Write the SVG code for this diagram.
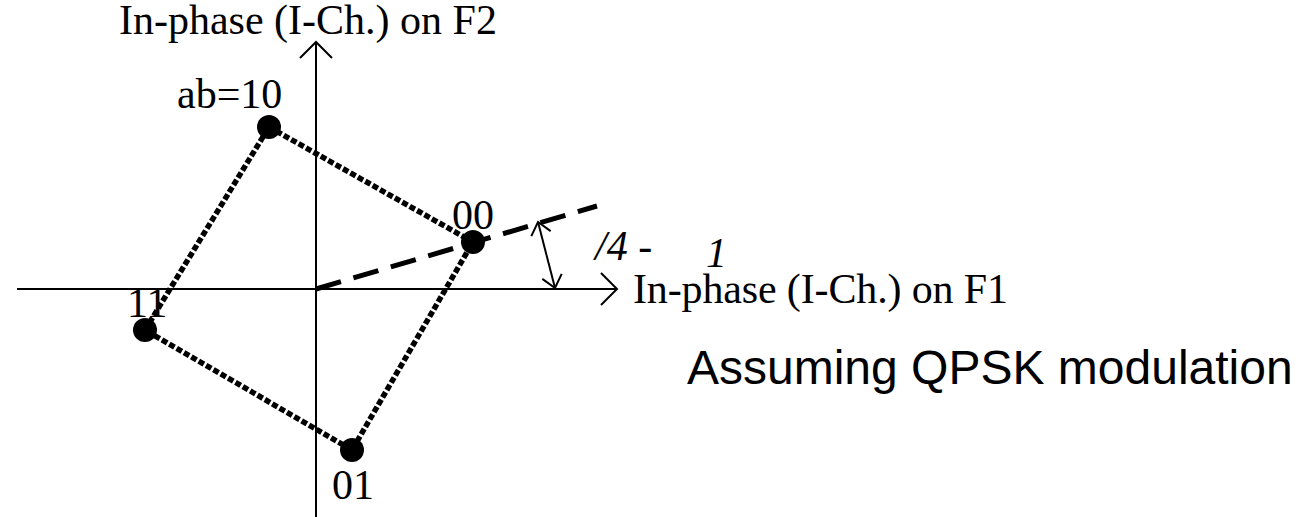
<svg xmlns="http://www.w3.org/2000/svg" width="1302" height="517" viewBox="0 0 1302 517">
<style>
.t{font-family:"Liberation Serif",serif;font-size:42px;fill:#000}
.ax{stroke:#000;stroke-width:2;fill:none}
.dot{stroke:#000;stroke-width:5.5;stroke-dasharray:6 2.5;fill:none}
.pt{fill:#000}
</style>
<defs>
<marker id="ah" markerWidth="20" markerHeight="34" refX="17" refY="17" orient="auto" markerUnits="userSpaceOnUse">
<path d="M1,1 L17,17 L1,33" fill="none" stroke="#000" stroke-width="2"/>
</marker>
<marker id="sh" markerWidth="16" markerHeight="24" refX="13" refY="12" orient="auto" markerUnits="userSpaceOnUse">
<path d="M1,2 L13,12 L1,22" fill="none" stroke="#000" stroke-width="2"/>
</marker>
</defs>
<rect width="1302" height="517" fill="#fff"/>
<g id="connectors">
<line class="ax" x1="17" y1="289" x2="617" y2="289" marker-end="url(#ah)"/>
<line class="ax" x1="316" y1="517" x2="316" y2="42" marker-end="url(#ah)"/>
<polygon class="dot" points="269,127 473,242 352,450 145,330"/>
<line x1="316" y1="289" x2="597" y2="206" stroke="#000" stroke-width="5" stroke-dasharray="26 13"/>
<line class="ax" x1="546.5" y1="255" x2="538" y2="222" marker-end="url(#sh)"/>
<line class="ax" x1="546.5" y1="255" x2="555" y2="288" marker-end="url(#sh)"/>
</g>
<g id="p10"><circle class="pt" cx="269" cy="127" r="12"/><text class="t" x="177" y="108">ab=10</text></g>
<g id="p00"><circle class="pt" cx="473" cy="242" r="12"/><text class="t" x="452" y="229">00</text></g>
<g id="p11"><circle class="pt" cx="145" cy="330" r="12"/><text class="t" x="127" y="317">11</text></g>
<g id="p01"><circle class="pt" cx="352" cy="450" r="12"/><text class="t" x="332" y="499">01</text></g>
<g id="labels">
<text class="t" x="119" y="34">In-phase (I-Ch.) on F2</text>
<text class="t" x="633" y="303" textLength="375">In-phase (I-Ch.) on F1</text>
<text class="t" x="595" y="260" font-style="italic">/4 -</text>
<text class="t" x="706" y="267" font-style="italic" font-size="22">1</text>
<text x="687" y="384" font-family="Liberation Sans,sans-serif" font-size="48">Assuming QPSK modulation</text>
</g>
</svg>
